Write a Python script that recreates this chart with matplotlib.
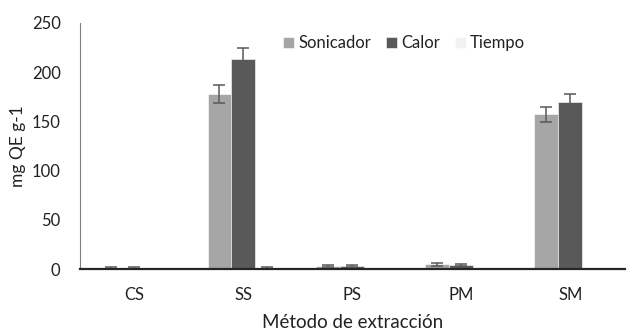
import matplotlib
matplotlib.use("Agg")
import matplotlib.pyplot as plt
import numpy as np

plt.rcParams['font.family'] = ['Lato', 'DejaVu Sans']

categories = ["CS", "SS", "PS", "PM", "SM"]
series_names = ["Sonicador", "Calor", "Tiempo"]
sonicador = [0.8, 178, 3, 5, 157]
sonicador_err = [1, 9, 1, 1.5, 8]
calor = [0.8, 213, 3, 4, 170]
calor_err = [1.2, 11, 1, 1, 8]
tiempo = [0, 1, 0, 0, 0]
tiempo_err = [0, 1.5, 0, 0, 0]
yticks = [0, 50, 100, 150, 200, 250]

colors = ["#a6a6a6", "#595959", "#f2f2f2"]

fig = plt.figure(figsize=(6.35, 3.36), dpi=100)
ax = fig.add_axes([0.126, 0.199, 0.858, 0.733])

x = np.arange(len(categories))
w = 0.22
data = [(sonicador, sonicador_err), (calor, calor_err), (tiempo, tiempo_err)]
for i, ((vals, errs), name, c) in enumerate(zip(data, series_names, colors)):
    ax.bar(x + (i - 1) * w, vals, w, color=c, label=name,
           yerr=errs, error_kw=dict(ecolor="#595959", elinewidth=1.1, capsize=4, capthick=1.1),
           edgecolor="white", linewidth=0.4)

ax.set_xlim(-0.5, len(categories) - 0.5)
ax.set_ylim(0, 250)
ax.set_yticks(yticks)
ax.set_xticks(x)
ax.set_xticklabels(categories)
ax.tick_params(axis='both', length=0, labelsize=12, colors="#222222")
ax.tick_params(axis='y', pad=14)
ax.tick_params(axis='x', pad=13)

for s in ["top", "right"]:
    ax.spines[s].set_visible(False)
ax.spines["left"].set_color("#7f7f7f")
ax.spines["left"].set_linewidth(0.8)
ax.spines["bottom"].set_color("#262626")
ax.spines["bottom"].set_linewidth(1.6)

ax.set_ylabel("mg QE g-1", fontsize=12.5, color="#222222", labelpad=4)
ax.set_xlabel("Método de extracción", fontsize=13.5, color="#222222", labelpad=8)

leg = ax.legend(loc="upper center", bbox_to_anchor=(0.595, 1.01), ncol=3, frameon=False,
                fontsize=12, handlelength=0.65, handleheight=0.65, handletextpad=0.25,
                columnspacing=0.9)
for t in leg.get_texts():
    t.set_color("#222222")

fig.savefig("out.png", dpi=100)
